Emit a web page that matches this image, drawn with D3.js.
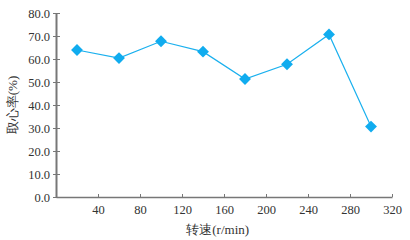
<!DOCTYPE html>
<html><head><meta charset="utf-8">
<script src="https://cdn.jsdelivr.net/npm/d3@7"></script>
<style>body{margin:0;background:#fff}svg{display:block}</style>
</head><body>
<svg id="c" width="410" height="240"></svg>
<script>
const speeds = [20, 60, 100, 140, 180, 220, 260, 300];
const coreRate = [63.9, 60.4, 67.7, 63.2, 51.3, 57.7, 70.7, 30.6];
const xTicks = [40, 80, 120, 160, 200, 240, 280, 320];
const yTicks = [0, 10, 20, 30, 40, 50, 60, 70, 80];
const xLabel = "转速(r/min)";
const yLabel = "取心率(%)";

const svg = d3.select("#c");
const m = {l: 56, r: 18, t: 13, b: 43};
const W = 410, H = 240;
const x = d3.scaleLinear().domain([0, 320]).range([m.l, W - m.r]);
const y = d3.scaleLinear().domain([0, 80]).range([H - m.b, m.t]);
const font = "'Liberation Serif','Times New Roman',serif";
const axisColor = "#777";

const gx = svg.append("g").attr("transform", `translate(0,${H - m.b})`)
  .call(d3.axisBottom(x).tickValues(xTicks).tickSizeInner(-3).tickSizeOuter(0).tickPadding(8));
gx.select(".domain").attr("stroke", axisColor).attr("stroke-width", 1.5);
gx.selectAll(".tick line").attr("stroke", axisColor);
gx.selectAll("text").attr("font-family", font).attr("font-size", 12.5).attr("fill", "#333");

const gy = svg.append("g").attr("transform", `translate(${m.l},0)`)
  .call(d3.axisLeft(y).tickValues(yTicks).tickFormat(d3.format(".1f")).tickSize(0).tickPadding(6));
gy.select(".domain").attr("stroke", axisColor).attr("stroke-width", 2);
gy.selectAll(".tick").append("line").attr("x1", -3).attr("x2", 4).attr("stroke", axisColor);
gy.selectAll("text").attr("font-family", font).attr("font-size", 12.5).attr("fill", "#333");

const pts = speeds.map((s, i) => [s, coreRate[i]]);
svg.append("path").datum(pts)
  .attr("d", d3.line().x(d => x(d[0])).y(d => y(d[1])))
  .attr("fill", "none").attr("stroke", "#1ab0ee").attr("stroke-width", 1.2);
svg.selectAll(".pt").data(pts).join("path")
  .attr("transform", d => `translate(${x(d[0])},${y(d[1])})`)
  .attr("d", d3.symbol(d3.symbolDiamond2, 90))
  .attr("fill", "#10acef");

svg.append("text").attr("x", x(154)).attr("y", 234)
  .attr("text-anchor", "middle").attr("font-family", font).attr("font-size", 13).attr("fill", "#333").text(xLabel);
svg.append("text").attr("transform", `translate(17,${(m.t + H - m.b) / 2}) rotate(-90)`)
  .attr("text-anchor", "middle").attr("font-family", font).attr("font-size", 13).attr("fill", "#333").text(yLabel);
</script>
</body></html>
